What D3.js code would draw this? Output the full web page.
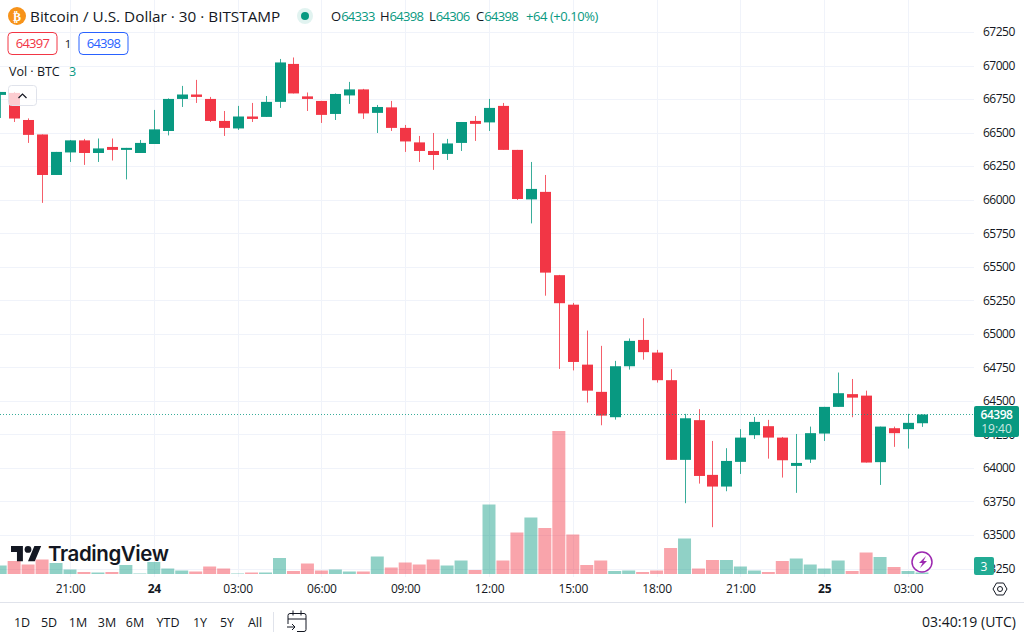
<!DOCTYPE html>
<html>
<head>
<meta charset="utf-8">
<script src="https://cdn.jsdelivr.net/npm/d3@7"></script>
<style>
  html, body { margin: 0; padding: 0; background: #fff; overflow: hidden; }
  text { font-family: "Open Sans", "Noto Sans", sans-serif; fill: #131722; }
</style>
</head>
<body>
<div id="chart"></div>
<script>
// Velas de 30 min, de izquierda a derecha
const opens = [66781,66796,66594,66486,66184,66352,66442,66348,66393,66371,66348,66415,66512,66751,66784,66751,66587,66531,66620,66617,66729,67012,66770,66736,66639,66777,66822,66647,66688,66535,66427,66363,66341,66423,66587,66576,66699,66371,66002,66058,65437,65217,64770,64567,64378,64758,64954,64860,64654,64060,64356,63948,63861,64045,64244,64311,64226,64015,64062,64256,64455,64550,64539,64043,64296,64289,64333];
const closes = [66803,66605,66483,66184,66356,66442,66348,66382,66371,66386,66423,66524,66751,66784,66766,66587,66535,66620,66602,66729,67023,66792,66751,66632,66788,66822,66643,66691,66535,66434,66363,66333,66419,66579,66565,66684,66371,66005,66080,65456,65228,64790,64576,64390,64758,64947,64863,64654,64060,64370,63940,63861,64052,64226,64343,64226,64057,64037,64259,64455,64557,64524,64040,64308,64259,64336,64398];
const highs = [66803,66803,66606,66486,66356,66445,66453,66456,66456,66386,66445,66669,66755,66848,66893,66766,66661,66699,66721,66773,67049,67060,66799,66736,66792,66878,66826,66706,66736,66557,66475,66497,66453,66579,66624,66751,66721,66371,66281,66184,65439,65230,65024,64910,64798,64965,65116,64880,64736,64403,64438,64201,64147,64289,64380,64358,64231,64253,64308,64455,64711,64663,64576,64308,64308,64403,64398];
const lows = [66609,66579,66423,65976,66184,66281,66259,66281,66292,66151,66348,66415,66479,66691,66721,66579,66475,66520,66579,66617,66684,66792,66661,66572,66594,66714,66602,66497,66512,66356,66281,66222,66296,66363,66438,66512,66371,65998,65823,65284,64738,64727,64487,64318,64360,64733,64807,64636,64060,63737,63883,63558,63826,63955,64216,64069,63928,63814,64037,64201,64455,64378,64040,63873,64157,64144,64306];
const volumes = [17,26,19,29,22,9,4,3,4,18,1,24,11,7,5,15,11,1,3,3,32,6,21,7,9,5,5,35,13,23,19,29,17,27,8,139,27,83,113,92,286,79,18,27,6,7,4,7,52,71,11,28,28,15,7,4,26,31,19,11,27,6,43,34,14,6,3];

const priceTicks = [67250,67000,66750,66500,66250,66000,65750,65500,65250,65000,64750,64500,64250,64000,63750,63500,63250];
const timeTickBars = [5,11,17,23,29,35,41,47,53,59,65];
const timeTickLabels = ['21:00','24','03:00','06:00','09:00','12:00','15:00','18:00','21:00','25','03:00'];
const rangeLabels = ['1D','5D','1M','3M','6M','YTD','1Y','5Y','All'];
const lastPrice = 64398;

const width = 1024;
const height = 638;
const green = '#089981';
const red = '#f23645';
const gridColor = '#f0f3fa';

const svg = d3.select('#chart').append('svg')
  .attr('width', width)
  .attr('height', height)
  .style('display', 'block');

const x = d3.scaleLinear().domain([5, 65]).range([70, 908]);
const y = d3.scaleLinear().domain([67250, 63250]).range([32, 568.5]);
const yVol = d3.scaleLinear().domain([0, 286]).range([574, 431]);

const colorOf = (i) => closes[i] >= opens[i] ? green : red;
const bars = d3.range(opens.length);

// Rejilla
svg.append('g').selectAll('line.h').data(priceTicks).enter().append('line')
  .attr('x1', 0).attr('x2', 974)
  .attr('y1', d => Math.round(y(d)) + 0.5).attr('y2', d => Math.round(y(d)) + 0.5)
  .attr('stroke', gridColor);

svg.append('g').selectAll('line.v').data(timeTickBars).enter().append('line')
  .attr('x1', d => Math.round(x(d)) + 0.5).attr('x2', d => Math.round(x(d)) + 0.5)
  .attr('y1', 0).attr('y2', 577)
  .attr('stroke', gridColor);

// Volumen
svg.append('g').selectAll('rect').data(bars).enter().append('rect')
  .attr('x', i => x(i) - 6.5)
  .attr('width', 13)
  .attr('y', i => yVol(volumes[i]))
  .attr('height', i => 574 - yVol(volumes[i]))
  .attr('fill', colorOf)
  .attr('fill-opacity', 0.45);

// Velas
const candles = svg.append('g').selectAll('g').data(bars).enter().append('g');

candles.append('line')
  .attr('x1', i => Math.round(x(i)) + 0.5).attr('x2', i => Math.round(x(i)) + 0.5)
  .attr('y1', i => y(highs[i])).attr('y2', i => y(lows[i]))
  .attr('stroke', colorOf)
  .attr('stroke-opacity', 0.8);

candles.append('rect')
  .attr('x', i => Math.round(x(i)) - 5)
  .attr('width', 11)
  .attr('y', i => y(Math.max(opens[i], closes[i])))
  .attr('height', i => Math.max(1, Math.abs(y(opens[i]) - y(closes[i]))))
  .attr('fill', colorOf);

// Linea del ultimo precio
svg.append('line')
  .attr('x1', 0).attr('x2', 974)
  .attr('y1', Math.floor(y(lastPrice)) + 0.5).attr('y2', Math.floor(y(lastPrice)) + 0.5)
  .attr('stroke', green)
  .attr('stroke-opacity', 0.8)
  .attr('stroke-dasharray', '1 2');

// Logo
const logo = svg.append('g');
logo.append('path')
  .attr('transform', 'translate(11,542.6) scale(0.85)')
  .attr('d', 'M14 22H7V11H0V4h14v18zM28 22h-8l7.5-18h8L28 22z')
  .attr('fill', '#131722');
logo.append('circle')
  .attr('transform', 'translate(11,542.6) scale(0.85)')
  .attr('cx', 20).attr('cy', 8).attr('r', 4)
  .attr('fill', '#131722');
logo.append('text')
  .attr('x', 48).attr('y', 561)
  .attr('font-size', 20.5).attr('font-weight', 600)
  .style('font-family', 'Inter')
  .attr('letter-spacing', -0.4)
  .text('TradingView');

// Cabecera
svg.append('circle').attr('cx', 17).attr('cy', 16).attr('r', 9).attr('fill', '#f7931a');
svg.append('text')
  .attr('x', 17).attr('y', 20.5).attr('text-anchor', 'middle')
  .attr('font-size', 12).attr('font-weight', 700)
  .style('font-family', 'DejaVu Sans').style('fill', '#fff')
  .text('₿');

svg.append('text')
  .attr('x', 30).attr('y', 21.5)
  .attr('font-size', 15.3)
  .text('Bitcoin / U.S. Dollar · 30 · BITSTAMP');

svg.append('circle').attr('cx', 305).attr('cy', 16).attr('r', 8).attr('fill', green).attr('fill-opacity', 0.12);
svg.append('circle').attr('cx', 305).attr('cy', 16).attr('r', 4).attr('fill', green);

const ohlcLetters = ['O', 'H', 'L', 'C'];
const ohlcValues = [opens[66], highs[66], lows[66], closes[66]];
const ohlcX = [331, 380, 429, 476];
ohlcLetters.forEach((letter, k) => {
  const t = svg.append('text').attr('x', ohlcX[k]).attr('y', 21).attr('font-size', 13);
  t.append('tspan').text(letter);
  t.append('tspan').style('fill', green).attr('letter-spacing', -0.7).text(ohlcValues[k]);
});
svg.append('text').attr('x', 526).attr('y', 21).attr('font-size', 13)
  .attr('letter-spacing', -0.45)
  .style('fill', green).text('+64 (+0.10%)');

// Cajas de compra y venta
svg.append('rect').attr('x', 8).attr('y', 32.5).attr('width', 49).attr('height', 22).attr('rx', 4)
  .attr('fill', '#fff').attr('stroke', red);
svg.append('text').attr('x', 32.5).attr('y', 48).attr('text-anchor', 'middle').attr('font-size', 13)
  .attr('letter-spacing', -0.7).style('fill', red).text('64397');
svg.append('text').attr('x', 68).attr('y', 48).attr('text-anchor', 'middle').attr('font-size', 11.5).text('1');
svg.append('rect').attr('x', 79).attr('y', 32.5).attr('width', 49).attr('height', 22).attr('rx', 4)
  .attr('fill', '#fff').attr('stroke', '#2962ff');
svg.append('text').attr('x', 103.5).attr('y', 48).attr('text-anchor', 'middle').attr('font-size', 13)
  .attr('letter-spacing', -0.7).style('fill', '#2962ff').text('64398');

const volLabel = svg.append('text').attr('x', 9).attr('y', 75.5).attr('font-size', 12.5);
volLabel.append('tspan').text('Vol · BTC');
volLabel.append('tspan').attr('x', 69).style('fill', green).text(volumes[66]);

// Boton de plegar
svg.append('rect').attr('x', 8.5).attr('y', 85.5).attr('width', 28).attr('height', 20).attr('rx', 3)
  .attr('fill', '#fff').attr('fill-opacity', 0.75).attr('stroke', '#e0e3eb');
svg.append('path').attr('d', 'M18.5 98l4-4 4 4').attr('fill', 'none').attr('stroke', '#131722').attr('stroke-width', 1.2);

// Eje de precios
const yAxis = d3.axisRight(y).tickValues(priceTicks).tickSize(0).tickPadding(0).tickFormat(d3.format('d'));
const yAxisG = svg.append('g').attr('transform', 'translate(983,0)').call(yAxis);
yAxisG.select('.domain').remove();
yAxisG.selectAll('text').attr('font-size', 12).attr('letter-spacing', -0.5)
  .style('font-family', '"Open Sans"').style('fill', '#131722');

// Etiqueta del ultimo precio
svg.append('rect').attr('x', 974).attr('y', 406).attr('width', 45).attr('height', 31).attr('rx', 2).attr('fill', green);
svg.append('text').attr('x', 996.5).attr('y', 419).attr('text-anchor', 'middle').attr('font-size', 12)
  .attr('letter-spacing', -0.5).attr('font-weight', 600).style('fill', '#fff').text(lastPrice);
svg.append('text').attr('x', 996.5).attr('y', 433).attr('text-anchor', 'middle').attr('font-size', 12)
  .style('fill', '#fff').style('fill-opacity', 0.8).text('19:40');

// Etiqueta del volumen
svg.append('rect').attr('x', 974).attr('y', 557).attr('width', 20).attr('height', 18).attr('rx', 2).attr('fill', '#22ab94');
svg.append('text').attr('x', 984).attr('y', 571).attr('text-anchor', 'middle').attr('font-size', 12)
  .style('fill', '#fff').text(volumes[66]);

// Eje de tiempo
const xAxis = d3.axisBottom(x)
  .tickValues(timeTickBars)
  .tickSize(0)
  .tickPadding(0)
  .tickFormat((d, i) => timeTickLabels[i]);
const xAxisG = svg.append('g').attr('transform', 'translate(0,584)').call(xAxis);
xAxisG.select('.domain').remove();
xAxisG.selectAll('text')
  .attr('font-size', 12)
  .attr('letter-spacing', -0.2)
  .style('font-family', '"Open Sans"')
  .style('fill', '#131722')
  .attr('font-weight', (d, i) => timeTickLabels[i].length === 2 ? 700 : 400);

svg.append('line').attr('x1', 0).attr('x2', width).attr('y1', 602.5).attr('y2', 602.5).attr('stroke', '#e0e3eb');

// Barra inferior
const rangeX = [22, 49, 78, 107, 135, 168, 200, 227, 255];
svg.append('g').selectAll('text').data(rangeLabels).enter().append('text')
  .attr('x', (d, i) => rangeX[i]).attr('y', 627)
  .attr('text-anchor', 'middle').attr('font-size', 12.5)
  .text(d => d);
svg.append('line').attr('x1', 273.5).attr('x2', 273.5).attr('y1', 612).attr('y2', 632).attr('stroke', '#e0e3eb');

// Icono de calendario
svg.append('path')
  .attr('d', 'M288 624v-8.5a2 2 0 0 1 2-2h14a2 2 0 0 1 2 2v14a2 2 0 0 1-2 2h-7M288 619h18M293 610.5v5M301 610.5v5M287 627h8M292 624l3 3-3 3')
  .attr('fill', 'none').attr('stroke', '#131722').attr('stroke-width', 1);

svg.append('text').attr('x', 1016).attr('y', 627).attr('text-anchor', 'end').attr('font-size', 14)
  .text('03:40:19 (UTC)');

// Icono de ajustes
svg.append('path')
  .attr('d', 'M993 589l3.5-6h7l3.5 6-3.5 6h-7z')
  .attr('fill', 'none').attr('stroke', '#131722');
svg.append('circle').attr('cx', 1000).attr('cy', 589).attr('r', 2.5).attr('fill', 'none').attr('stroke', '#131722');

// Icono del rayo
svg.append('circle').attr('cx', 922).attr('cy', 562).attr('r', 10)
  .attr('fill', '#fff').attr('stroke', '#9c27b0').attr('stroke-width', 1.5);
svg.append('path').attr('d', 'M926 556l-7 7h3.5l-2.5 5 7-7h-3.5z').attr('fill', '#9c27b0');
</script>
</body>
</html>
